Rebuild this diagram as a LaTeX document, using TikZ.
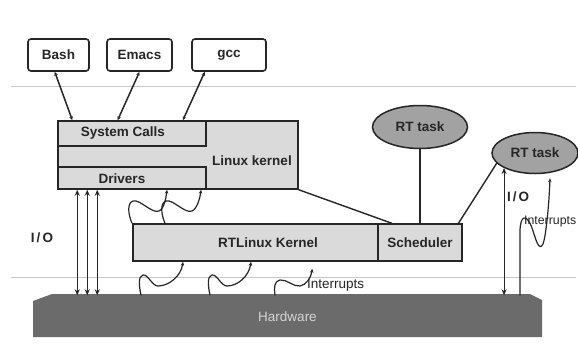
\documentclass[tikz,border=0pt]{standalone}
\usepackage{fontspec}
\setmainfont{Liberation Sans}
\usepackage{xcolor}
\usepackage{tikz}
\usetikzlibrary{calc,shapes.geometric,arrows.meta}
\definecolor{ink}{HTML}{262626}
\definecolor{boxfill}{HTML}{DADADA}
\definecolor{taskfill}{HTML}{A2A2A2}
\definecolor{hwfill}{HTML}{6B6B6B}
\definecolor{hwtext}{HTML}{D4D4D4}
\definecolor{rule}{HTML}{C6C6C6}
\newcommand\labfont{\fontsize{13.5}{16}\selectfont\bfseries}
\newcommand\thinfont{\fontsize{13.5}{16}\selectfont}
\tikzset{
  app/.style={draw=ink, fill=white, rounded corners=3pt, line width=1.6pt, minimum height=32pt, font=\labfont, text=ink},
  kbox/.style={draw=ink, fill=boxfill, line width=1.5pt, font=\labfont, text=ink},
  task/.style={ellipse, draw=ink, fill=taskfill, line width=1.5pt, font=\labfont, text=ink},
  lab/.style={text=ink, font=\labfont, inner sep=0pt},
  intlab/.style={text=ink, font=\thinfont, inner sep=0pt, anchor=west},
  iolab/.style={text=ink, font=\labfont, inner sep=0pt},
  hwlab/.style={text=hwtext, font=\thinfont, inner sep=0pt},
  link/.style={draw=ink, line width=1.4pt, line cap=round},
  apparrow/.style={draw=ink, line width=1.5pt, {Stealth[length=4pt,width=3.5pt]}-{Stealth[length=4pt,width=3.5pt]}},
  io/.style={draw=ink, line width=1.1pt, {Stealth[length=6pt,width=5pt]}-{Stealth[length=6pt,width=5pt]}},
  wave/.style={draw=ink, line width=1.2pt, -{Stealth[length=4pt,width=3.5pt]}},
  sep/.style={draw=rule, line width=1pt},
}
\begin{document}
\begin{tikzpicture}[x=1pt,y=-1pt]
  \useasboundingbox (0,0) rectangle (578,360);
  \fill[white] (0,0) rectangle (578,360);
  % user / kernel and kernel / hardware borders
  \draw[sep] (11,86) -- (576,86);
  \draw[sep] (11,277) -- (576,277);
  % applications
  \node[app, minimum width=61pt] (bash) at (58.5,55) {Bash};
  \node[app, minimum width=65pt] (emacs) at (139.5,55) {Emacs};
  \node[app, minimum width=74pt] (gcc) at (229,55) {gcc};
  % linux kernel
  \node[kbox, minimum width=240pt, minimum height=68pt] (lk) at (178,155) {};
  \node[kbox, minimum width=148pt, minimum height=25pt] (sys) at (132,133.5) {};
  \node[kbox, minimum width=148pt, minimum height=22pt] (drv) at (132,178) {};
  \node[lab] (syslab) at (123,133.5) {System Calls};
  \node[lab] (drvlab) at (122,179) {Drivers};
  \node[lab] (lklab) at (252,161) {Linux kernel};
  % rtlinux kernel
  \node[kbox, minimum width=245pt, minimum height=37pt] (rtl) at (255.5,242.5) {};
  \node[lab] (rtllab) at (268,243) {RTLinux Kernel};
  \node[kbox, minimum width=84pt, minimum height=37pt] (sched) at (420,242.5) {Scheduler};
  % real time tasks
  \node[task, minimum width=95pt, minimum height=43pt] (rt1) at (420,127) {RT task};
  \node[task, minimum width=86pt, minimum height=41pt] (rt2) at (535,153) {RT task};
  % hardware slab
  \fill[hwfill] (33,301) -- (52,294) -- (530,294) -- (542,300) -- (542,337) -- (33,337) -- cycle;
  \node[hwlab, minimum width=509pt, minimum height=43pt] (hw) at (287.5,317) {Hardware};
  % system calls
  \draw[apparrow] ($(bash.south west)!0.44!(bash.south east)$) -- ($(lk.north west)!0.0625!(lk.north east)$);
  \draw[apparrow] (emacs.south) -- ($(lk.north west)!0.25!(lk.north east)$);
  \draw[apparrow] ($(gcc.south west)!0.18!(gcc.south east)$) -- ($(lk.north west)!0.52!(lk.north east)$);
  % scheduling
  \draw[link] (lk.south east) -- ($(sched.north west)!0.17!(sched.north east)$);
  \draw[link] (rt1.south |- sched.north) -- (rt1.south);
  \draw[link] ($(sched.north west)!0.95!(sched.north east)$) -- (rt2.195);
  % I/O
  \foreach \dx in {20,30,40} {
    \path (drv.south west) ++(\dx,0) coordinate (iotop);
    \draw[io] (iotop) -- (iotop |- hw.north);
  }
  \draw[io] (rt2.south west) -- (rt2.south west |- hw.north);
  \node[iolab] (iol) at (42,238) {I\kern2pt/\kern2pt O};
  \node[iolab] (ior) at (518,197) {I\kern2pt/\kern2pt O};
  % interrupts
  \foreach \a/\e in {132/167,165/201} {
    \draw[wave] (rtl.north -| \a,0) .. controls (\a-4,214) and (\a-5,203) .. (\a+1,201)
      .. controls (\a+8,199) and (\a+20,214) .. (\a+27,211)
      .. controls (\a+32,209) and (\e-1,198) .. (drv.south -| \e,0);
  }
  \foreach \a/\e in {141/183,210/251} {
    \draw[wave] (hw.north -| \a,0) .. controls (\a-2,286) and (\a-3,276) .. (\a+2,275)
      .. controls (\a+7,274) and (\a+11,286) .. (\a+17,286)
      .. controls (\a+28,286) and (\e-2,276) .. (rtl.south -| \e,0);
  }
  \coordinate (intend) at ($(rtl.south west)+(180,7)$);
  \draw[wave] (hw.north -| 275,0) .. controls (274,288) and (274,281) .. (280,280)
    .. controls (287,279) and (293,287) .. (300,286)
    .. controls (306,285) and (311,278) .. (intend);
  \node[intlab] (intlab1) at (307,285) {Interrupts};
  \coordinate (rtint) at ($(rt2.south)+(15,4)$);
  \draw[wave] (hw.north -| 520,0) -- (520,232) .. controls (520,214) and (527,214) .. (532,228)
    .. controls (536,240) and (539,252) .. (543,244)
    .. controls (546,236) and (549,205) .. (rtint);
  \node[intlab, font=\fontsize{12.3}{14}\selectfont] (intlab2) at (524,222) {Interrupts};
\end{tikzpicture}
\end{document}
